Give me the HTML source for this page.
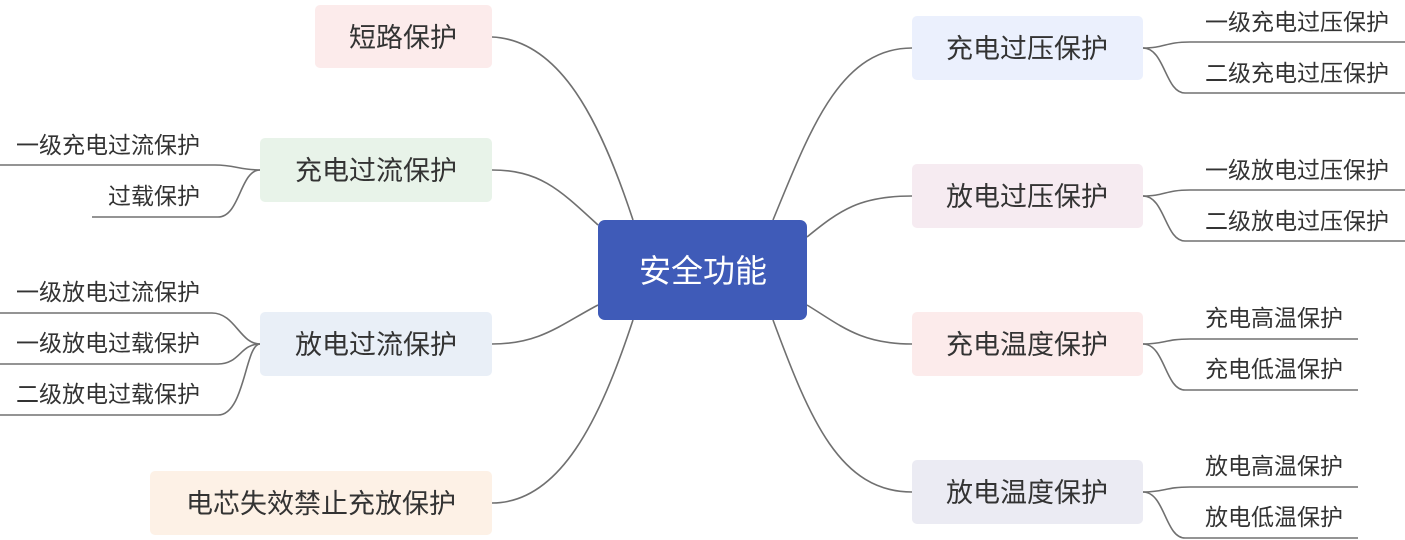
<!DOCTYPE html>
<html><head><meta charset="utf-8"><style>
html,body{margin:0;padding:0;background:#fff;width:1405px;height:540px;overflow:hidden}
svg text{font-family:"Liberation Sans","Noto Sans CJK SC",sans-serif;fill:#333}
</style></head><body>
<svg width="1405" height="540" xmlns="http://www.w3.org/2000/svg">
<g fill="none" stroke="#707070" stroke-width="1.6">
<path d="M633 220 C600 120 560 40 492 37"/>
<path d="M598 225 C560 190 540 170 492 170"/>
<path d="M598 305 C560 325 540 344 492 344"/>
<path d="M633 320 C600 420 560 503 492 503"/>
<path d="M773 220 C810 130 840 48 912 48"/>
<path d="M807 237 C840 210 860 196 912 196"/>
<path d="M807 305 C840 325 860 344 912 344"/>
<path d="M773 320 C810 420 840 492 912 492"/>
<path d="M1143 48 C1165 48 1165 42 1190 42 L1405 42"/>
<path d="M1143 48 C1165 48 1165 93 1185 93 L1405 93"/>
<path d="M1143 196 C1165 196 1165 190 1190 190 L1405 190"/>
<path d="M1143 196 C1165 196 1165 241 1185 241 L1405 241"/>
<path d="M1143 344 C1165 344 1165 339 1190 339 L1358 339"/>
<path d="M1143 344 C1165 344 1165 390 1185 390 L1358 390"/>
<path d="M1143 492 C1165 492 1165 487 1190 487 L1358 487"/>
<path d="M1143 492 C1165 492 1165 538 1185 538 L1358 538"/>
<path d="M260 170 C240 170 235 165 215 165 L0 165"/>
<path d="M260 170 C240 170 240 217 218 217 L92 217"/>
<path d="M260 344 C240 344 235 313 212 313 L0 313"/>
<path d="M260 344 C240 344 240 364 218 364 L0 364"/>
<path d="M260 344 C245 344 245 415 218 415 L0 415"/>
</g>
<rect x="598" y="220" width="209" height="100" rx="7" fill="#3F5BB8"/>
<text x="703" y="282" font-size="32" text-anchor="middle" style="fill:#fff">安全功能</text>
<rect x="315" y="5" width="177" height="63" rx="5" fill="#FCEBEB"/>
<rect x="260" y="138" width="232" height="64" rx="5" fill="#E8F3E9"/>
<rect x="260" y="312" width="232" height="64" rx="5" fill="#E9EFF7"/>
<rect x="150" y="471" width="342" height="64" rx="5" fill="#FDF1E6"/>
<rect x="912" y="16" width="231" height="64" rx="5" fill="#EBF0FD"/>
<rect x="912" y="164" width="231" height="64" rx="5" fill="#F6EBF1"/>
<rect x="912" y="312" width="231" height="64" rx="5" fill="#FCEBEB"/>
<rect x="912" y="460" width="231" height="64" rx="5" fill="#EBEBF3"/>
<g font-size="27" text-anchor="middle">
<text x="403" y="47">短路保护</text>
<text x="376" y="180">充电过流保护</text>
<text x="376" y="354">放电过流保护</text>
<text x="321" y="513">电芯失效禁止充放保护</text>
<text x="1027" y="58">充电过压保护</text>
<text x="1027" y="206">放电过压保护</text>
<text x="1027" y="354">充电温度保护</text>
<text x="1027" y="502">放电温度保护</text>
</g>
<g font-size="23">
<text x="1205" y="30">一级充电过压保护</text>
<text x="1205" y="81">二级充电过压保护</text>
<text x="1205" y="178">一级放电过压保护</text>
<text x="1205" y="229">二级放电过压保护</text>
<text x="1205" y="326">充电高温保护</text>
<text x="1205" y="377">充电低温保护</text>
<text x="1205" y="474">放电高温保护</text>
<text x="1205" y="525">放电低温保护</text>
<text x="16" y="153">一级充电过流保护</text>
<text x="108" y="204">过载保护</text>
<text x="16" y="300">一级放电过流保护</text>
<text x="16" y="351">一级放电过载保护</text>
<text x="16" y="402">二级放电过载保护</text>
</g>
</svg>
</body></html>
